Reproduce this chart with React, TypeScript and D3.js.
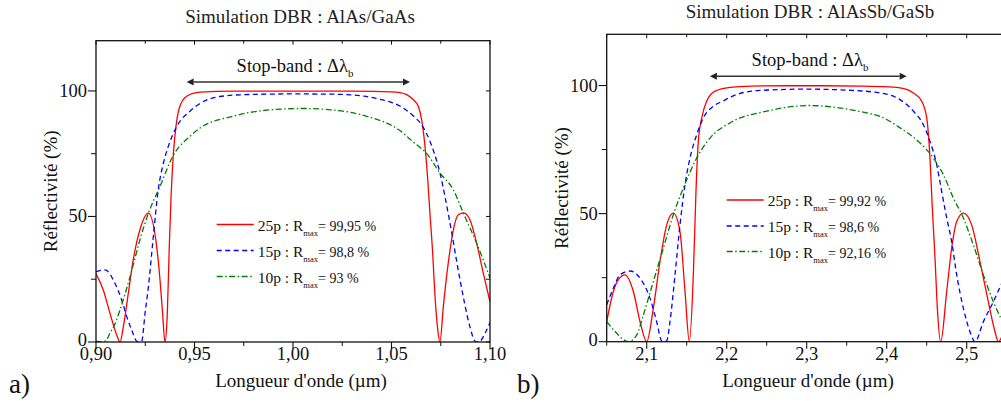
import React from 'react';
import * as d3 from 'd3';

type P = [number, number];

const leftXTicks = [0.9, 0.95, 1.0, 1.05, 1.1];
const leftXMinor = [0.925, 0.975, 1.025, 1.075];
const rightXTicks = [2.1, 2.2, 2.3, 2.4, 2.5];
const rightXMinor = [2.05, 2.15, 2.25, 2.35, 2.45, 2.55];
const yTicks = [0, 50, 100];
const yMinor = [25, 75];

const a25: P[] = [
  [0.9, 27.3], [0.9037, 20.7], [0.9071, 11.4], [0.9105, 2.8], [0.9122, 0], [0.9139, 6.1],
  [0.9164, 19.4], [0.9189, 32.7], [0.9223, 44.7], [0.9266, 51.3], [0.9308, 38.0],
  [0.9325, 24.7], [0.9338, 11.4], [0.935, 0], [0.9362, 11.4], [0.9372, 38.0], [0.9381, 58.0],
  [0.9393, 75.3], [0.9406, 85.9], [0.9423, 93.2], [0.946, 97.9], [0.9528, 99.5], [0.97, 99.9],
  [1.0, 99.95], [1.03, 99.9], [1.05, 99.6], [1.0543, 99.3], [1.0577, 98.5], [1.0611, 96.5],
  [1.0636, 93.9], [1.0653, 88.6], [1.067, 77.9], [1.0684, 64.6], [1.0695, 51.4], [1.0709, 35.4],
  [1.0721, 18], [1.0733, 6.1], [1.0746, 0], [1.0763, 14.1], [1.0788, 31.4], [1.0814, 44.7],
  [1.0839, 50.7], [1.0865, 51.4], [1.0898, 48.7], [1.0932, 39.4], [1.0966, 27.4], [1.1, 16],
];
const a15: P[] = [
  [0.9, 28], [0.9046, 28.7], [0.9096, 23.4], [0.913, 16.8], [0.9156, 10.1], [0.9181, 4.8],
  [0.9207, 0.3], [0.922, 0], [0.9232, 0.3], [0.9249, 11.4], [0.9266, 22], [0.9291, 42],
  [0.9316, 60.6], [0.9342, 71.2], [0.9367, 77.9], [0.941, 85.9], [0.9477, 91.9], [0.9528, 95.0],
  [0.9617, 97.6], [0.975, 98.5], [1.0, 98.8], [1.02, 98.7], [1.036, 97.9], [1.045, 96.5],
  [1.0543, 94], [1.0611, 90], [1.0653, 86.5], [1.0695, 80], [1.0746, 67.3], [1.0797, 47.3],
  [1.0848, 24.7], [1.0898, 6.1], [1.0924, 0.3], [1.0937, 0], [1.095, 0.3], [1.0975, 3.5], [1.1, 7.8],
];
const a10: P[] = [
  [0.9, 0.3], [0.9025, 0], [0.905, 0.5], [0.9071, 3.5], [0.9098, 7.5], [0.9122, 12.8],
  [0.9173, 26], [0.9223, 40.7], [0.9266, 51.3], [0.9325, 62], [0.9392, 74.3], [0.9477, 81.9],
  [0.9528, 85.2], [0.9695, 89.9], [0.985, 92.2], [1.005, 93], [1.0205, 92.4], [1.0374, 89.9],
  [1.0543, 84.2], [1.0611, 79.6], [1.0679, 75], [1.0746, 67.3], [1.0814, 60.6], [1.0865, 51.3],
  [1.0932, 39.4], [1.1, 25.5],
];

const b25: P[] = [
  [2.05, 7.8], [2.0583, 19.6], [2.0645, 24.2], [2.0729, 26.1], [2.0833, 19.6], [2.0917, 7.8],
  [2.1, 0], [2.1083, 13.1], [2.1166, 31.3], [2.125, 45.6], [2.1333, 50.2], [2.1416, 43],
  [2.1479, 19.6], [2.1533, 0], [2.1583, 26.1], [2.1616, 58.7], [2.1645, 78.2], [2.1688, 87.4],
  [2.175, 93.9], [2.1854, 97.8], [2.2041, 99.3], [2.23, 99.8], [2.3, 99.92], [2.37, 99.8],
  [2.3916, 99.6], [2.4166, 99.1], [2.4333, 97.1], [2.4437, 93.9], [2.45, 87.4], [2.4541, 71.7],
  [2.457, 52.2], [2.4604, 32.6], [2.4633, 13.1], [2.4675, 0], [2.475, 19.6], [2.4812, 36.5],
  [2.4875, 46.9], [2.4958, 50.2], [2.5062, 45.6], [2.5166, 31.3], [2.527, 15.6], [2.5354, 3.9],
  [2.5395, 0], [2.545, 3], [2.55, 9],
];
const b15: P[] = [
  [2.05, 14.4], [2.0583, 20.9], [2.0666, 26.1], [2.0791, 27.6], [2.0917, 24.8], [2.1041, 17],
  [2.1125, 7.8], [2.1187, 0.3], [2.1218, 0], [2.125, 0.3], [2.1291, 7.8], [2.1354, 26.1],
  [2.1416, 45.6], [2.1479, 61.3], [2.1541, 71.7], [2.1625, 80.8], [2.1708, 87.4], [2.1833, 91.9],
  [2.1958, 94], [2.2041, 95.4], [2.2375, 98], [2.3, 98.6], [2.35, 98.2], [2.3916, 97.1],
  [2.4166, 94.5], [2.4333, 90], [2.4458, 84.7], [2.4541, 78.2], [2.4625, 69.1], [2.4687, 58.7],
  [2.475, 48.3], [2.4812, 39.1], [2.4875, 26.1], [2.4958, 13.1], [2.5041, 3.9], [2.5104, 0],
  [2.5208, 7.8], [2.5333, 15.6], [2.5429, 22.2], [2.55, 27],
];
const b10: P[] = [
  [2.05, 7.8], [2.0625, 3.3], [2.07, 1], [2.077, 0], [2.0875, 2.6], [2.0958, 10.4],
  [2.1083, 23.5], [2.1208, 36.5], [2.1333, 49.6], [2.1458, 60], [2.1625, 71.7], [2.1791, 79.5],
  [2.2041, 85.4], [2.25, 90], [2.304, 92.2], [2.34, 91.3], [2.375, 89.3], [2.3916, 88],
  [2.4166, 83.5], [2.4416, 77.6], [2.4583, 71.7], [2.4708, 65.2], [2.4833, 56.1], [2.4958, 48.3],
  [2.5083, 37.8], [2.5208, 26.1], [2.5333, 15.6], [2.5429, 9.1], [2.55, 5],
];

const legendNames = ['25p', '15p', '10p'];
const aRmax = ['99,95', '98,8', '93'];
const bRmax = ['99,92', '98,6', '92,16'];
const aStopBand: [number, number] = [0.946, 1.0594];
const bStopBand: [number, number] = [2.179, 2.425];
const stopBandLevel = 103.6;

const FONT = "'Liberation Serif', 'Times New Roman', serif";
const COLORS = ['#ff0000', '#0000ff', '#008000'];
const DASHES = ['none', '5,3.5', '6,2.5,1.5,2.5'];

interface PanelProps {
  id: string;
  x0: number; x1: number; yTop: number; yBot: number;
  xDomain: [number, number];
  series: P[][];
  xTicks: number[]; xMinor: number[];
  fmt: (d: number) => string;
  title: string; titleX: number; titleY: number;
  stop: [number, number]; stopTextX: number; stopTextY: number;
  legX: number; legY: number[]; rmax: string[];
  xLabelX: number;
  yLabelX: number;
  letter: string; letterX: number;
}

function Panel(p: PanelProps) {
  const xs = d3.scaleLinear().domain(p.xDomain).range([p.x0, p.x1]);
  const ys = d3.scaleLinear().domain([0, 120]).range([p.yBot, p.yTop]);
  const line = d3.line<P>().x(d => xs(d[0])).y(d => ys(d[1])).curve(d3.curveMonotoneX);
  const midY = (p.yTop + p.yBot) / 2;
  const ax = xs(p.stop[0]);
  const bx = xs(p.stop[1]);
  const ay = ys(stopBandLevel);
  const ah = 7;
  return (
    <g style={{ fontFamily: FONT }}>
      <defs>
        <clipPath id={`clip-${p.id}`}>
          <rect x={p.x0} y={p.yTop} width={p.x1 - p.x0} height={p.yBot - p.yTop} />
        </clipPath>
      </defs>
      <text x={p.titleX} y={p.titleY} fontSize={19} textAnchor="middle" fill="#222">{p.title}</text>
      <g clipPath={`url(#clip-${p.id})`}>
        {p.series.map((s, i) => (
          <path key={i} d={line(s) || ''} fill="none" stroke={COLORS[i]} strokeWidth={1.3}
            strokeDasharray={DASHES[i]} />
        ))}
      </g>
      <rect x={p.x0} y={p.yTop} width={p.x1 - p.x0} height={p.yBot - p.yTop} fill="none" stroke="#111" strokeWidth={1.3} />
      {p.xTicks.map(t => (
        <g key={'xt' + t}>
          <line x1={xs(t)} x2={xs(t)} y1={p.yBot} y2={p.yBot + 7} stroke="#111" strokeWidth={1.1} />
          <line x1={xs(t)} x2={xs(t)} y1={p.yTop} y2={p.yTop + 4} stroke="#111" strokeWidth={1} />
          <text x={xs(t)} y={360} fontSize={18.5} textAnchor="middle" fill="#111">{p.fmt(t)}</text>
        </g>
      ))}
      {p.xMinor.map(t => (
        <g key={'xm' + t}>
          <line x1={xs(t)} x2={xs(t)} y1={p.yBot} y2={p.yBot + 4} stroke="#111" strokeWidth={1} />
          <line x1={xs(t)} x2={xs(t)} y1={p.yTop} y2={p.yTop + 3} stroke="#111" strokeWidth={1} />
        </g>
      ))}
      {yTicks.map(t => (
        <g key={'yt' + t}>
          <line x1={p.x0 - 8} x2={p.x0} y1={ys(t)} y2={ys(t)} stroke="#111" strokeWidth={1.1} />
          <line x1={p.x1 - 4} x2={p.x1} y1={ys(t)} y2={ys(t)} stroke="#111" strokeWidth={1} />
          <text x={p.x0 - 9} y={ys(t) + (t === 0 ? 4 : 6)} fontSize={18.5} textAnchor="end" fill="#111">{t}</text>
        </g>
      ))}
      {yMinor.map(t => (
        <g key={'ym' + t}>
          <line x1={p.x0 - 5} x2={p.x0} y1={ys(t)} y2={ys(t)} stroke="#111" strokeWidth={1} />
          <line x1={p.x1 - 4} x2={p.x1} y1={ys(t)} y2={ys(t)} stroke="#111" strokeWidth={1} />
        </g>
      ))}
      <text x={p.xLabelX} y={386.5} fontSize={19} textAnchor="middle" fill="#111">Longueur d'onde (µm)</text>
      <text transform={`translate(${p.yLabelX},${midY}) rotate(-90)`} fontSize={19} textAnchor="middle" fill="#111">Réflectivité (%)</text>
      <line x1={ax + ah} x2={bx - ah} y1={ay} y2={ay} stroke="#333" strokeWidth={1.5} />
      <path d={`M${ax},${ay} L${ax + ah},${ay - 3.5} L${ax + ah},${ay + 3.5} Z`} fill="#222" />
      <path d={`M${bx},${ay} L${bx - ah},${ay - 3.5} L${bx - ah},${ay + 3.5} Z`} fill="#222" />
      <text x={p.stopTextX} y={p.stopTextY} fontSize={18.5} textAnchor="middle" fill="#111">
        Stop-band : Δλ<tspan fontSize={11} dy={5}>b</tspan>
      </text>
      {p.legY.map((ly, i) => (
        <g key={'lg' + i}>
          <line x1={p.legX} x2={p.legX + 37} y1={ly} y2={ly} stroke={COLORS[i]} strokeWidth={1.3} strokeDasharray={DASHES[i]} />
          <text x={p.legX + 41} y={ly + 6} fontSize={15.5} fill="#111">
            {legendNames[i]} : R<tspan fontSize={8.5} dy={5}>max</tspan><tspan fontSize={14} dy={-5}>= {p.rmax[i]} %</tspan>
          </text>
        </g>
      ))}
      <text x={p.letterX} y={393} fontSize={27} fill="#111">{p.letter}</text>
    </g>
  );
}

export default function App() {
  return (
    <svg width={1001} height={403} style={{ position: 'absolute', left: 0, top: 0, background: '#fff' }}>
      <rect x={0} y={0} width={1001} height={403} fill="#fff" />
      <Panel id="a" x0={96} x1={490} yTop={40.7} yBot={342} xDomain={[0.9, 1.1]}
        series={[a25, a15, a10]} xTicks={leftXTicks} xMinor={leftXMinor}
        fmt={d => d3.format('.2f')(d).replace('.', ',')}
        title="Simulation DBR : AlAs/GaAs" titleX={300} titleY={22.5}
        stop={aStopBand} stopTextX={295} stopTextY={71.5}
        legX={216.7} legY={[224.5, 250.5, 276.5]} rmax={aRmax}
        xLabelX={301} yLabelX={57} letter="a)" letterX={9} />
      <Panel id="b" x0={606.7} x1={1006.7} yTop={34.3} yBot={341.7} xDomain={[2.05, 2.55]}
        series={[b25, b15, b10]} xTicks={rightXTicks} xMinor={rightXMinor}
        fmt={d => d3.format('.1f')(d).replace('.', ',')}
        title="Simulation DBR : AlAsSb/GaSb" titleX={810} titleY={17.5}
        stop={bStopBand} stopTextX={810} stopTextY={65.5}
        legX={726.7} legY={[200, 226, 251.5]} rmax={bRmax}
        xLabelX={808} yLabelX={568} letter="b)" letterX={517} />
    </svg>
  );
}
